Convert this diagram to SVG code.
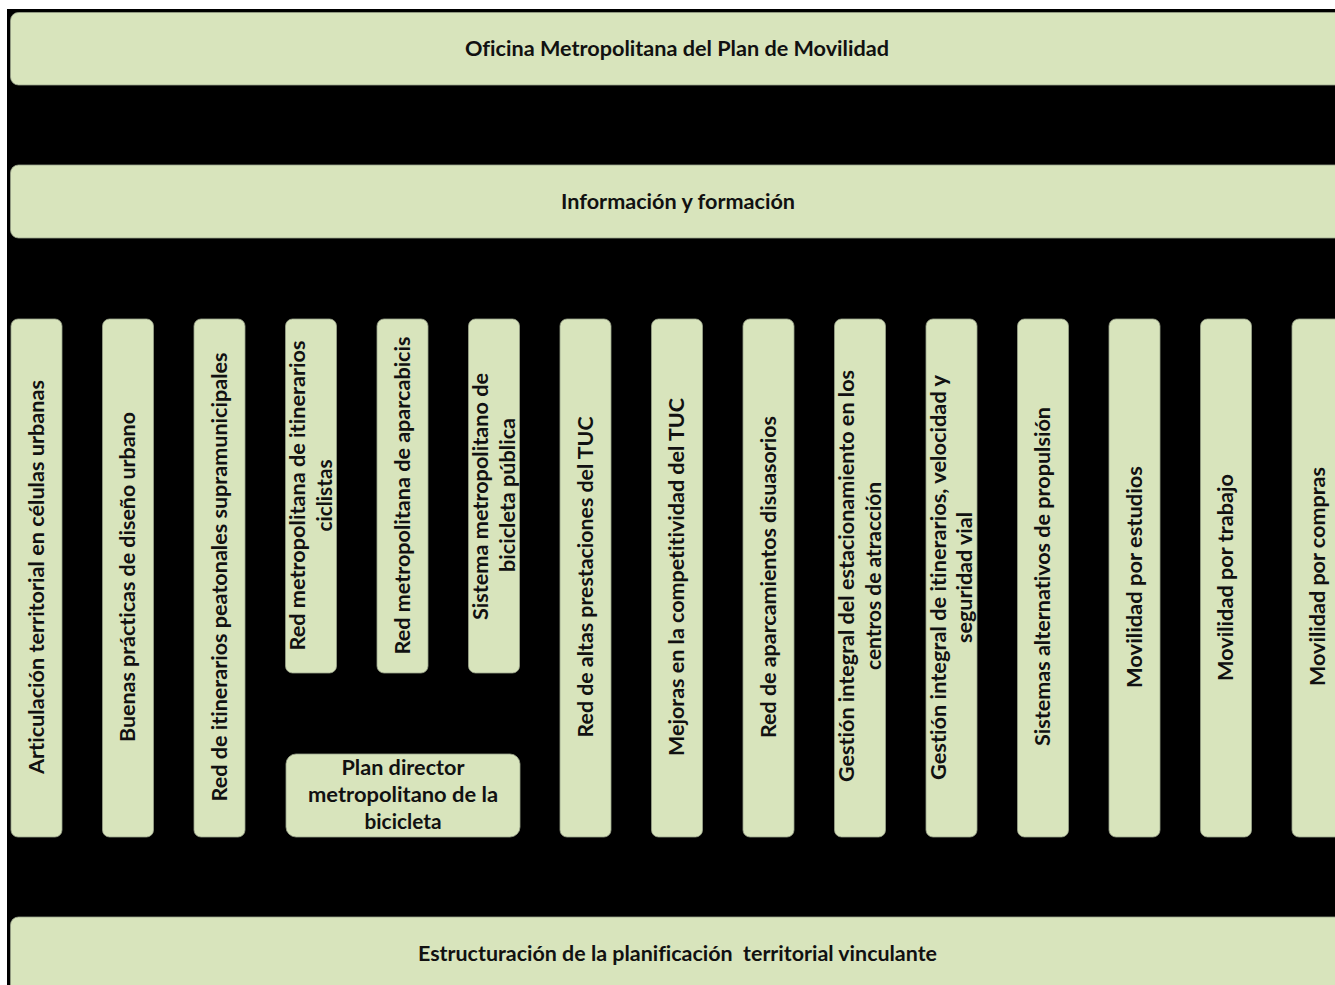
<svg xmlns="http://www.w3.org/2000/svg" width="1335" height="985" viewBox="0 0 1335 985">
<style>
.box{fill:#d8e4bc;stroke:#9aa38a;stroke-width:0.8}
.t{font-family:"Lato","Liberation Sans",sans-serif;font-weight:bold;font-size:20.5px;fill:#111;text-anchor:middle;font-variant-ligatures:none;font-feature-settings:"liga" 0;white-space:pre}
</style>
<rect x="0" y="0" width="1335" height="985" fill="#ffffff"/>
<rect x="7" y="9" width="1340" height="990" fill="#000000"/>
<g id="connectors"></g>
<g id="n-oficina"><rect class="box" x="10.5" y="12.5" width="1340" height="72.5" rx="8"/><text class="t" x="677" y="56" textLength="424" lengthAdjust="spacingAndGlyphs">Oficina Metropolitana del Plan de Movilidad</text></g>
<g id="n-informacion"><rect class="box" x="10.5" y="165" width="1340" height="73" rx="8"/><text class="t" x="678" y="209" textLength="234" lengthAdjust="spacingAndGlyphs">Información y formación</text></g>
<g id="n-estructuracion"><rect class="box" x="10.5" y="917" width="1340" height="90" rx="8"/><text class="t" x="677.5" y="961" textLength="519" lengthAdjust="spacingAndGlyphs" xml:space="preserve">Estructuración de la planificación  territorial vinculante</text></g>

<g id="n-c1"><rect class="box" x="11" y="319" width="51" height="518" rx="7"/><text class="t" transform="translate(43.5,577) rotate(-90)" textLength="394" lengthAdjust="spacingAndGlyphs">Articulación territorial en células urbanas</text></g>
<g id="n-c2"><rect class="box" x="102.5" y="319" width="51" height="518" rx="7"/><text class="t" transform="translate(135,577) rotate(-90)" textLength="330" lengthAdjust="spacingAndGlyphs">Buenas prácticas de diseño urbano</text></g>
<g id="n-c3"><rect class="box" x="194" y="319" width="51" height="518" rx="7"/><text class="t" transform="translate(226.5,577) rotate(-90)" textLength="449" lengthAdjust="spacingAndGlyphs">Red de itinerarios peatonales supramunicipales</text></g>
<g id="n-c4"><rect class="box" x="285.5" y="319" width="51" height="354" rx="7"/><text class="t" transform="translate(305,495.5) rotate(-90)" textLength="310" lengthAdjust="spacingAndGlyphs">Red metropolitana de itinerarios</text><text class="t" transform="translate(331.5,495.5) rotate(-90)" textLength="72" lengthAdjust="spacingAndGlyphs">ciclistas</text></g>
<g id="n-c5"><rect class="box" x="377" y="319" width="51" height="354" rx="7"/><text class="t" transform="translate(409.5,495.5) rotate(-90)" textLength="318" lengthAdjust="spacingAndGlyphs">Red metropolitana de aparcabicis</text></g>
<g id="n-c6"><rect class="box" x="468.5" y="319" width="51" height="354" rx="7"/><text class="t" transform="translate(488,496.5) rotate(-90)" textLength="247" lengthAdjust="spacingAndGlyphs">Sistema metropolitano de</text><text class="t" transform="translate(514.5,495) rotate(-90)" textLength="154" lengthAdjust="spacingAndGlyphs">bicicleta pública</text></g>
<g id="n-plan"><rect class="box" x="286" y="754" width="234" height="83" rx="10"/><text class="t" x="403" y="775" textLength="123" lengthAdjust="spacingAndGlyphs">Plan director</text><text class="t" x="403" y="802" textLength="190" lengthAdjust="spacingAndGlyphs">metropolitano de la</text><text class="t" x="403" y="829" textLength="77" lengthAdjust="spacingAndGlyphs">bicicleta</text></g>
<g id="n-c7"><rect class="box" x="560" y="319" width="51" height="518" rx="7"/><text class="t" transform="translate(592.5,577) rotate(-90)" textLength="321" lengthAdjust="spacingAndGlyphs">Red de altas prestaciones del TUC</text></g>
<g id="n-c8"><rect class="box" x="651.5" y="319" width="51" height="518" rx="7"/><text class="t" transform="translate(684,577) rotate(-90)" textLength="358" lengthAdjust="spacingAndGlyphs">Mejoras en la competitividad del TUC</text></g>
<g id="n-c9"><rect class="box" x="743" y="319" width="51" height="518" rx="7"/><text class="t" transform="translate(775.5,577) rotate(-90)" textLength="322" lengthAdjust="spacingAndGlyphs">Red de aparcamientos disuasorios</text></g>
<g id="n-c10"><rect class="box" x="834.5" y="319" width="51" height="518" rx="7"/><text class="t" transform="translate(854,576) rotate(-90)" textLength="412" lengthAdjust="spacingAndGlyphs">Gestión integral del estacionamiento en los</text><text class="t" transform="translate(880.5,576) rotate(-90)" textLength="188" lengthAdjust="spacingAndGlyphs">centros de atracción</text></g>
<g id="n-c11"><rect class="box" x="926" y="319" width="51" height="518" rx="7"/><text class="t" transform="translate(945.5,577.5) rotate(-90)" textLength="405" lengthAdjust="spacingAndGlyphs">Gestión integral de itinerarios, velocidad y</text><text class="t" transform="translate(972,577.5) rotate(-90)" textLength="131" lengthAdjust="spacingAndGlyphs">seguridad vial</text></g>
<g id="n-c12"><rect class="box" x="1017.5" y="319" width="51" height="518" rx="7"/><text class="t" transform="translate(1050,576.5) rotate(-90)" textLength="339" lengthAdjust="spacingAndGlyphs">Sistemas alternativos de propulsión</text></g>
<g id="n-c13"><rect class="box" x="1109" y="319" width="51" height="518" rx="7"/><text class="t" transform="translate(1141.5,577) rotate(-90)" textLength="222" lengthAdjust="spacingAndGlyphs">Movilidad por estudios</text></g>
<g id="n-c14"><rect class="box" x="1200.5" y="319" width="51" height="518" rx="7"/><text class="t" transform="translate(1233,577.5) rotate(-90)" textLength="207" lengthAdjust="spacingAndGlyphs">Movilidad por trabajo</text></g>
<g id="n-c15"><rect class="box" x="1292" y="319" width="51" height="518" rx="7"/><text class="t" transform="translate(1324.5,576.5) rotate(-90)" textLength="219" lengthAdjust="spacingAndGlyphs">Movilidad por compras</text></g>
</svg>
